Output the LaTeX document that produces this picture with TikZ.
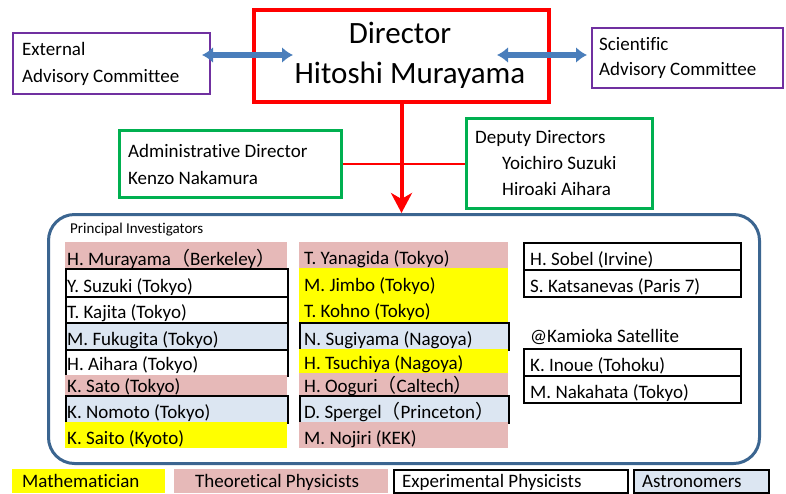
\documentclass[tikz,border=0pt]{standalone}
\usepackage{fontspec}
\setmainfont{Carlito}[Ligatures=CommonOff]
\newfontfamily\cjkfont{Noto Sans CJK JP}
\usetikzlibrary{arrows.meta,calc}
\definecolor{pinkc}{HTML}{E6B9B8}
\definecolor{ltblue}{HTML}{DCE6F2}
\definecolor{yel}{HTML}{FFFF00}
\definecolor{grn}{HTML}{00B050}
\definecolor{purp}{HTML}{7030A0}
\definecolor{pibord}{HTML}{3B6590}
\definecolor{arrblue}{HTML}{4A7EBB}
\newcommand\fwp[1]{{\cjkfont #1}}
\tikzset{
  txt/.style={inner sep=0pt, font=\fontsize{19}{22}\selectfont, anchor=base west},
  bigtxt/.style={inner sep=0pt, font=\fontsize{31}{36}\selectfont, anchor=base},
  theo/.style={fill=pinkc},
  math/.style={fill=yel},
  expt/.style={fill=white, draw=black, line width=2pt},
  astro/.style={fill=ltblue, draw=black, line width=2pt},
  dirbox/.style={draw=red, line width=4pt},
  combox/.style={draw=purp, line width=2pt},
  admbox/.style={draw=grn, line width=3pt},
  blarrow/.style={arrblue, line width=6pt, {Latex[length=11pt,width=16pt]}-{Latex[length=11pt,width=16pt]}},
}
\newcommand\cell[9]{%
  \node[#2, anchor=north west, inner sep=0pt, minimum width={#5-#3}, minimum height={#6-#4}] (#1) at (#3,#4) {};
  \node[txt] (#1-t) at (#7,#8) {#9};}
\begin{document}
\begin{tikzpicture}[x=1pt,y=-1pt]
\useasboundingbox (0,0) rectangle (786,493);
% director
\node[dirbox, anchor=north west, inner sep=0pt, minimum width=295, minimum height=92] (dir) at (252,8) {};
\node[bigtxt] (dir-t1) at (400,43) {Director};
\node[bigtxt] (dir-t2) at (410,83) {Hitoshi Murayama};
% committees
\node[combox, anchor=north west, inner sep=0pt, minimum width=197, minimum height=61] (ext) at (12,32) {};
\node[txt] (ext-t1) at (22,55) {External};
\node[txt] (ext-t2) at (22,82) {Advisory Committee};
\node[combox, anchor=north west, inner sep=0pt, minimum width=191, minimum height=60] (sci) at (591,27) {};
\node[txt] (sci-t1) at (599,50) {Scientific};
\node[txt] (sci-t2) at (599,75) {Advisory Committee};
\coordinate (la) at (202,55);
\coordinate (lb) at (293,55);
\coordinate (ra) at (497,55);
\coordinate (rb) at (587,55);
\draw[blarrow] (la) -- (lb);
\draw[blarrow] (ra) -- (rb);
% admin / deputy
\node[admbox, anchor=north west, inner sep=0pt, minimum width=222, minimum height=67] (adm) at (118,129) {};
\node[txt] (adm-t1) at (128,157) {Administrative Director};
\node[txt] (adm-t2) at (128,184) {Kenzo Nakamura};
\node[admbox, anchor=north west, inner sep=0pt, minimum width=186, minimum height=90] (dep) at (465,117) {};
\node[txt] (dep-t1) at (475,143) {Deputy Directors};
\node[txt] (dep-t2) at (502,169) {Yoichiro Suzuki};
\node[txt] (dep-t3) at (502,195) {Hiroaki Aihara};
\draw[red, line width=2pt] (adm.east) -- (adm.east -| dep.west);
% PI box
\node[draw=pibord, line width=3pt, rounded corners=26pt, fill=white, anchor=north west, inner sep=0pt, minimum width=711, minimum height=249] (pi) at (47,213) {};
\draw[red, line width=4pt, -{Stealth[length=20pt,width=21pt,inset=6pt]}] (dir.south) -- (dir.south |- pi.north);
\node[inner sep=0pt, font=\fontsize{15}{18}\selectfont, anchor=base west] (pi-t) at (70,233) {Principal Investigators};
% column 1
\cell{c1a}{theo}{65}{242}{287}{268}{67}{265}{H. Murayama\fwp{（}Berkeley\fwp{）}}
\cell{c1b}{expt}{65}{268}{287}{296}{67}{292}{Y. Suzuki (Tokyo)}
\cell{c1c}{expt}{65}{296}{287}{322}{67}{318}{T. Kajita (Tokyo)}
\cell{c1d}{astro}{65}{322}{287}{349}{67}{345}{M. Fukugita (Tokyo)}
\cell{c1e}{expt}{65}{349}{287}{375}{67}{370}{H. Aihara (Tokyo)}
\cell{c1f}{theo}{65}{375}{287}{395}{67}{392}{K. Sato (Tokyo)}
\cell{c1g}{astro}{65}{395}{287}{422}{67}{418}{K. Nomoto (Tokyo)}
\cell{c1h}{math}{65}{422}{287}{448}{67}{444}{K. Saito (Kyoto)}
% column 2
\cell{c2a}{theo}{299}{242}{508}{268}{304}{264}{T. Yanagida (Tokyo)}
\cell{c2b}{math}{299}{268}{508}{295}{304}{291}{M. Jimbo (Tokyo)}
\cell{c2c}{math}{299}{295}{508}{322}{304}{317}{T. Kohno (Tokyo)}
\cell{c2d}{astro}{299}{322}{508}{349}{304}{345}{N. Sugiyama (Nagoya)}
\cell{c2e}{math}{299}{349}{508}{373}{304}{369}{H. Tsuchiya (Nagoya)}
\cell{c2f}{theo}{299}{373}{508}{395}{304}{392}{H. Ooguri\fwp{（}Caltech\fwp{）}}
\cell{c2g}{astro}{299}{395}{508}{422}{304}{418}{D. Spergel\fwp{（}Princeton\fwp{）}}
\cell{c2h}{theo}{299}{422}{508}{448}{304}{444}{M. Nojiri (KEK)}
% column 3
\cell{c3a}{expt}{523}{242}{740}{269}{530}{265}{H. Sobel (Irvine)}
\cell{c3b}{expt}{523}{269}{740}{296}{530}{292}{S. Katsanevas (Paris 7)}
\node[txt] (kam) at (530,342) {@Kamioka Satellite};
\cell{c3c}{expt}{523}{348}{740}{375}{530}{371}{K. Inoue (Tohoku)}
\cell{c3d}{expt}{523}{375}{740}{402}{530}{398}{M. Nakahata (Tokyo)}
% legend
\cell{lg1}{math}{12}{469}{165}{493}{22}{487}{Mathematician}
\cell{lg2}{theo}{174}{469}{388}{493}{195}{487}{Theoretical Physicists}
\cell{lg3}{expt}{393}{469}{627}{492}{402}{487}{Experimental Physicists}
\cell{lg4}{astro}{633}{469}{768}{492}{642}{487}{Astronomers}
\end{tikzpicture}
\end{document}
